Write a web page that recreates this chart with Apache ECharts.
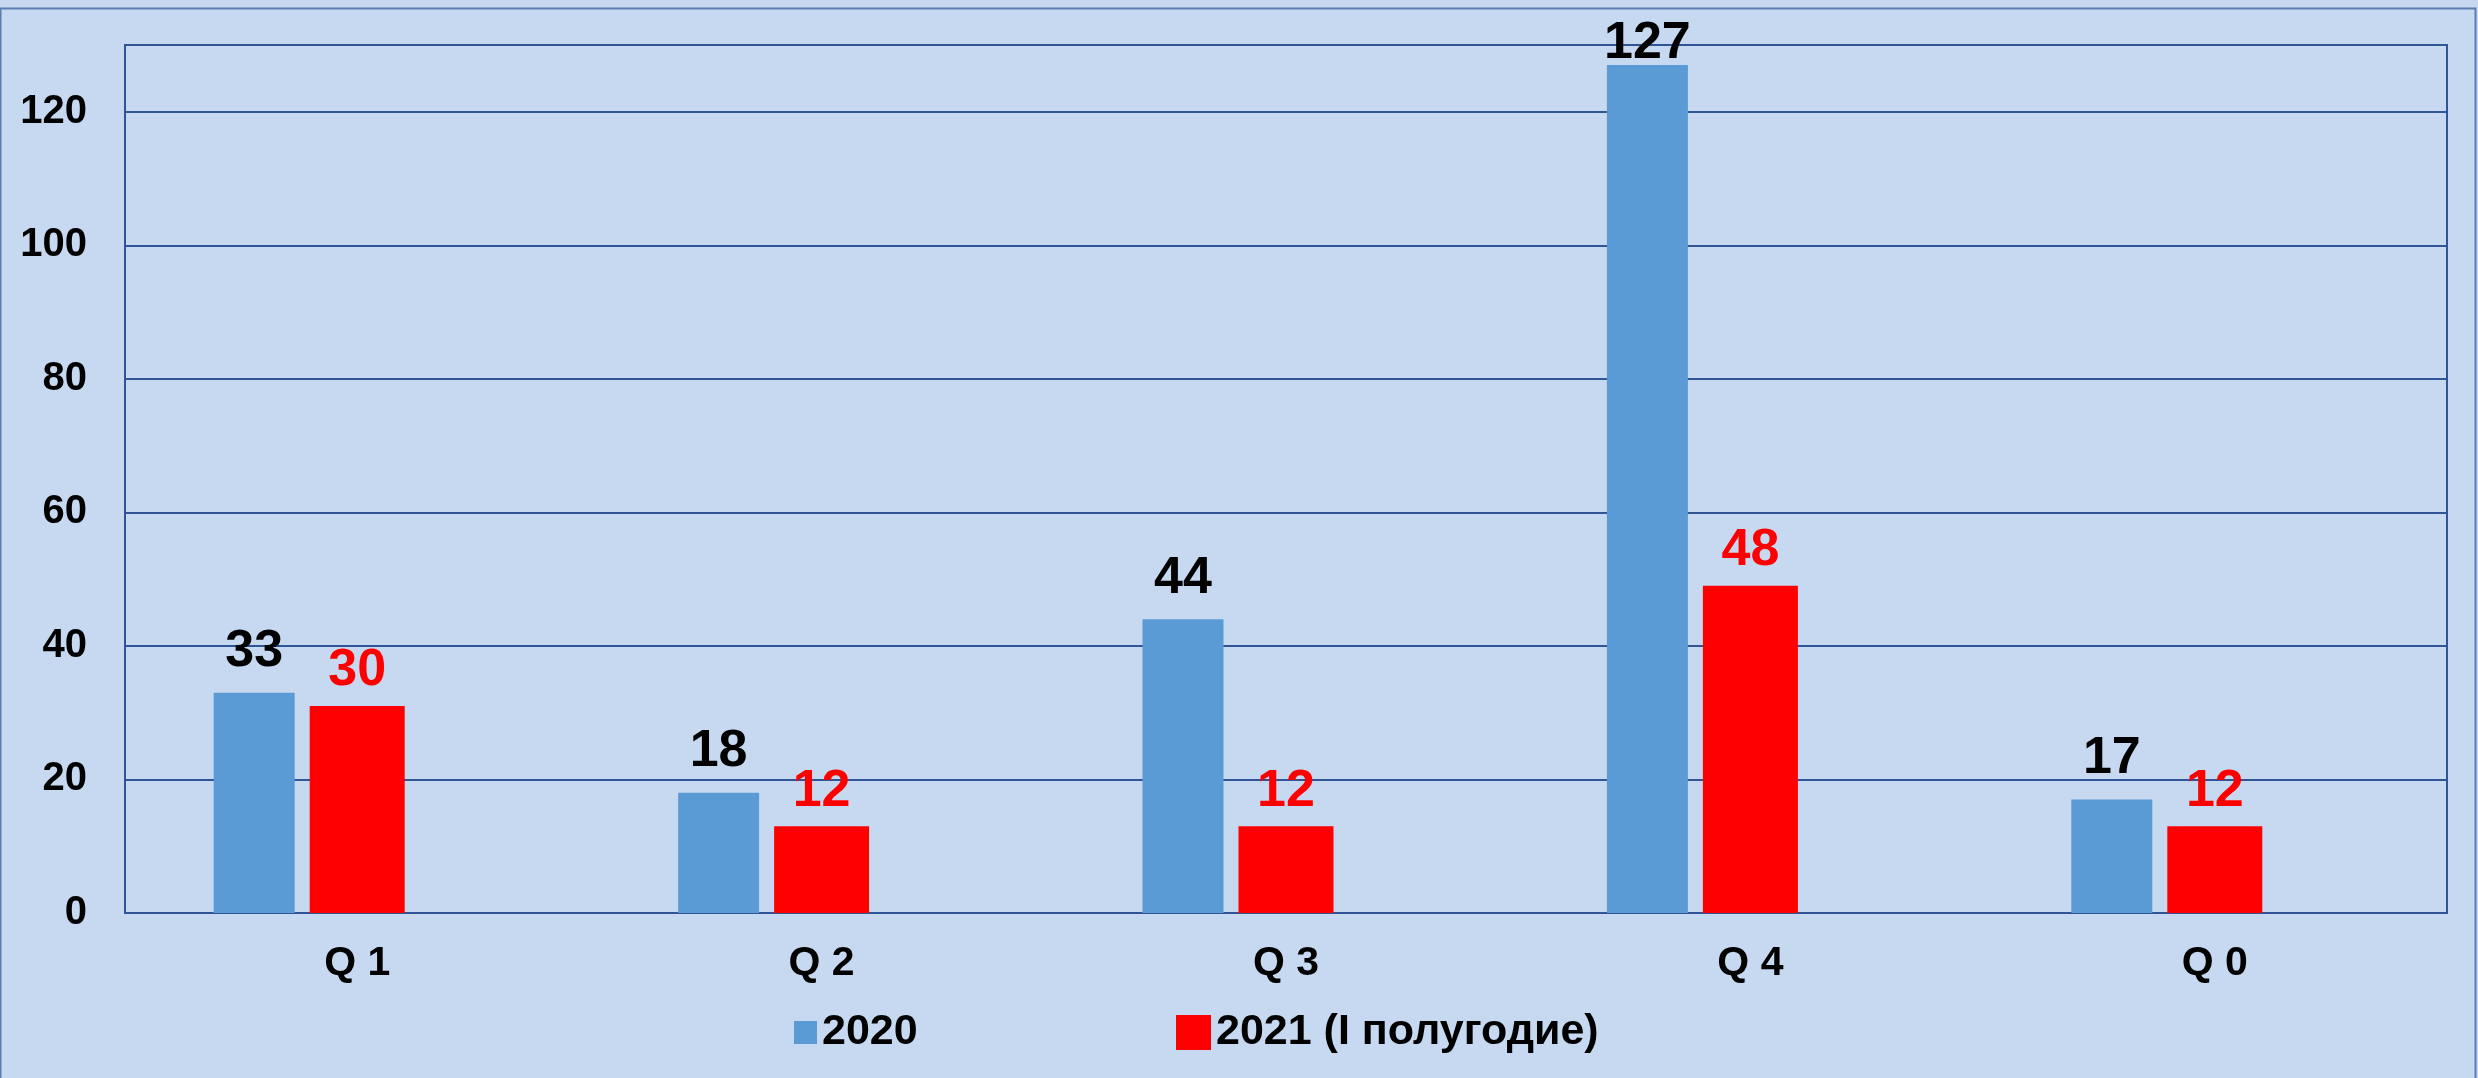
<!DOCTYPE html>
<html>
<head>
<meta charset="utf-8">
<script src="https://cdn.jsdelivr.net/npm/echarts@6/dist/echarts.min.js"></script>
<style>
  html, body { margin: 0; padding: 0; background: #c6d9f0; }
  #chart { width: 2478px; height: 1078px; }
</style>
</head>
<body>
<div id="chart"></div>
<script>
// categories and values
const categories = ['Q 1', 'Q 2', 'Q 3', 'Q 4', 'Q 0']
const values2020 = [33, 18, 44, 127, 17]
// bar heights as drawn in the picture, and the labels printed on them
const bars2021 = [31, 13, 13, 49, 13]
const labels2021 = [30, 12, 12, 48, 12]
const yTicks = [0, 20, 40, 60, 80, 100, 120]

const name2020 = '2020'
const name2021 = '2021 (I полугодие)'

const font = 'Liberation Sans, Arial, sans-serif'
const yMax = 130

const myChart = echarts.init(document.getElementById('chart'))

const option = {
  backgroundColor: '#c6d9f0',
  animation: false,
  graphic: [{
    type: 'rect',
    shape: { x: 0.5, y: 8.5, width: 2475, height: 1080 },
    style: { fill: 'none', stroke: '#5b7db1', lineWidth: 2 },
    silent: true
  }],
  grid: {
    show: true,
    left: 125,
    right: 31,
    top: 45,
    bottom: 165,
    borderColor: '#2f5597',
    borderWidth: 2,
    backgroundColor: 'transparent'
  },
  legend: [{
    data: [name2020],
    left: 789,
    top: 1006,
    icon: 'rect',
    itemWidth: 23,
    itemHeight: 23,
    textStyle: { fontFamily: font, fontWeight: 'bold', fontSize: 43, color: '#000' }
  }, {
    data: [name2021],
    left: 1171,
    top: 1006,
    icon: 'rect',
    itemWidth: 35,
    itemHeight: 35,
    textStyle: { fontFamily: font, fontWeight: 'bold', fontSize: 43, color: '#000' }
  }],
  xAxis: [{
    type: 'category',
    data: categories,
    axisTick: { show: false },
    axisLine: { lineStyle: { color: '#2f5597', width: 2 } },
    axisLabel: {
      margin: 30,
      fontFamily: font,
      fontWeight: 'bold',
      fontSize: 41,
      color: '#000'
    }
  }, {
    // hidden twin axis: lets the 2020 bars sit left of the centred 2021 bars
    type: 'category',
    data: categories,
    show: false
  }],
  yAxis: {
    type: 'value',
    min: yTicks[0],
    max: yMax,
    interval: yTicks[1] - yTicks[0],
    axisLine: { show: false },
    axisTick: { show: false },
    axisLabel: {
      showMaxLabel: false,
      margin: 38,
      fontFamily: font,
      fontWeight: 'bold',
      fontSize: 40,
      color: '#000'
    },
    splitLine: {
      lineStyle: { color: '#2f5597', width: 2 }
    }
  },
  series: [{
    name: name2021,
    type: 'bar',
    xAxisIndex: 0,
    barWidth: 95,
    itemStyle: { color: '#ff0000' },
    data: bars2021,
    label: {
      show: true,
      position: 'top',
      distance: 9,
      fontFamily: font,
      fontWeight: 'bold',
      fontSize: 52,
      color: '#ff0000',
      formatter: p => labels2021[p.dataIndex]
    }
  }, {
    name: name2020,
    type: 'bar',
    xAxisIndex: 1,
    barWidth: 81,
    barGap: '0%',
    itemStyle: { color: '#5b9bd5' },
    data: values2020.map(v => {
      // a label that would leave the plot is pulled down onto the bar
      if (v > yMax - 10) {
        return { value: v, label: { distance: -5 } }
      }
      return v
    }),
    label: {
      show: true,
      position: 'top',
      distance: 15,
      fontFamily: font,
      fontWeight: 'bold',
      fontSize: 52,
      color: '#000'
    }
  }, {
    // empty spacer series on the hidden axis
    name: 'spacer',
    type: 'bar',
    xAxisIndex: 1,
    barWidth: 206,
    barGap: '0%',
    data: categories.map(() => null),
    silent: true
  }]
}

myChart.setOption(option)
</script>
</body>
</html>
